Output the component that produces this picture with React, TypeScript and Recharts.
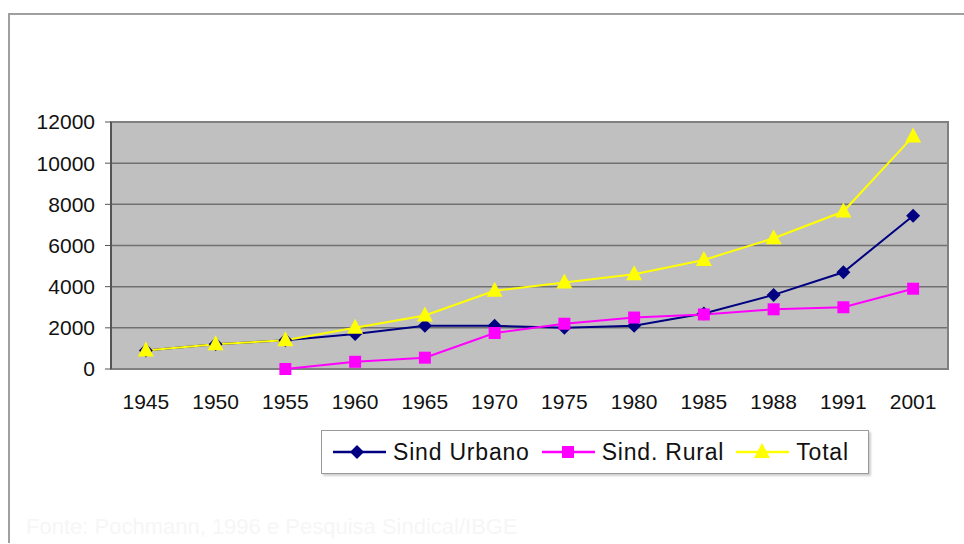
import React from "react";
import {
  LineChart,
  Line,
  XAxis,
  YAxis,
  CartesianGrid,
  ReferenceArea,
} from "recharts";

const years = ["1945", "1950", "1955", "1960", "1965", "1970", "1975", "1980", "1985", "1988", "1991", "2001"];
const urbano = [900, 1200, 1400, 1700, 2100, 2100, 2000, 2100, 2700, 3600, 4700, 7450];
const rural = [null, null, 0, 350, 550, 1750, 2200, 2500, 2650, 2900, 3000, 3900];
const total = [900, 1200, 1400, 2000, 2600, 3800, 4200, 4600, 5300, 6350, 7650, 11300];
const yTicks = [0, 2000, 4000, 6000, 8000, 10000, 12000];
const edgeTicks = [0, 1, 2, 3, 4, 5, 6, 7, 8, 9, 10, 11, 12];

const data = years.map((y, i) => ({
  year: y,
  urbano: urbano[i],
  rural: rural[i],
  total: total[i],
}));

const FONT = '"Liberation Sans", Arial, sans-serif';
const NAVY = "#000080";
const MAGENTA = "#ff00ff";
const YELLOW = "#ffff00";

const Diamond = ({ cx, cy }: any) =>
  cx == null || cy == null ? null : (
    <polygon points={`${cx},${cy - 7} ${cx + 7},${cy} ${cx},${cy + 7} ${cx - 7},${cy}`} fill={NAVY} />
  );

const Square = ({ cx, cy }: any) =>
  cx == null || cy == null ? null : <rect x={cx - 6} y={cy - 6} width={12} height={12} fill={MAGENTA} />;

const Triangle = ({ cx, cy }: any) =>
  cx == null || cy == null ? null : (
    <polygon points={`${cx},${cy - 9} ${cx + 8},${cy + 6} ${cx - 8},${cy + 6}`} fill={YELLOW} />
  );

const legendItems = [
  { label: "Sind Urbano", color: NAVY, shape: "diamond" },
  { label: "Sind. Rural", color: MAGENTA, shape: "square" },
  { label: "Total", color: YELLOW, shape: "triangle" },
];

const LegendBox = () => (
  <div
    style={{
      position: "absolute",
      left: 321,
      top: 430,
      width: 548,
      display: "flex",
      alignItems: "center",
      height: 44,
      border: "1px solid #9a9a9a",
      boxShadow: "2px 2px 2px #cfcfcf",
      background: "#fff",
      paddingLeft: 11,
      fontFamily: FONT,
      fontSize: 23,
      letterSpacing: 0.8,
      color: "#111",
      boxSizing: "border-box",
    }}
  >
    {legendItems.map((it) => (
      <div key={it.label} style={{ display: "flex", alignItems: "center", marginRight: 12 }}>
        <svg width={53} height={20} style={{ marginRight: 7 }}>
          <line x1={0} y1={10} x2={53} y2={10} stroke={it.color} strokeWidth={2.5} />
          {it.shape === "diamond" && <polygon points="24,3 31,10 24,17 17,10" fill={it.color} />}
          {it.shape === "square" && <rect x={20} y={4} width={12} height={12} fill={it.color} />}
          {it.shape === "triangle" && <polygon points="26,1 34,16 18,16" fill={it.color} />}
        </svg>
        <span>{it.label}</span>
      </div>
    ))}
  </div>
);

export default function App() {
  return (
    <div style={{ position: "fixed", left: 0, top: 0, width: 964, height: 544, background: "#fff", overflow: "hidden" }}>
      <div style={{ position: "absolute", left: 8, top: 13, right: 0, height: 0, borderTop: "2px solid #a0a0a0" }} />
      <div style={{ position: "absolute", left: 8, top: 13, width: 0, height: 530, borderLeft: "2px solid #a0a0a0" }} />
      <LineChart
        width={964}
        height={544}
        data={data}
        margin={{ top: 122, right: 16, bottom: 135, left: 0 }}
        style={{ position: "absolute", left: 0, top: 0 }}
      >
        <CartesianGrid vertical={false} fill="#c0c0c0" stroke="#707070" strokeWidth={1.5} />
        <ReferenceArea y1={0} y2={12000} fill="none" stroke="#808080" strokeWidth={2} />
        <XAxis
          xAxisId="edges"
          type="number"
          domain={[0, 12]}
          ticks={edgeTicks}
          tick={false}
          height={0}
          axisLine={{ stroke: "#555", strokeWidth: 2 }}
          tickLine={{ stroke: "#555" }}
          tickSize={6}
        />
        <XAxis
          dataKey="year"
          scale="band"
          height={40}
          axisLine={false}
          tickLine={false}
          tickMargin={19}
          interval={0}
          tick={{ fontFamily: FONT, fontSize: 21, fill: "#111" }}
        />
        <YAxis
          width={111}
          domain={[0, 12000]}
          ticks={yTicks}
          interval={0}
          axisLine={{ stroke: "#555", strokeWidth: 2 }}
          tickLine={{ stroke: "#555" }}
          tickSize={6}
          tickMargin={10}
          tick={{ fontFamily: FONT, fontSize: 21, fill: "#111" }}
        />
        <Line dataKey="urbano" name="Sind Urbano" stroke={NAVY} strokeWidth={2} dot={<Diamond />} isAnimationActive={false} />
        <Line dataKey="rural" name="Sind. Rural" stroke={MAGENTA} strokeWidth={2} dot={<Square />} isAnimationActive={false} />
        <Line dataKey="total" name="Total" stroke={YELLOW} strokeWidth={2} dot={<Triangle />} isAnimationActive={false} />
      </LineChart>
      <LegendBox />
      <div
        style={{
          position: "absolute",
          left: 26,
          top: 514,
          fontFamily: FONT,
          fontSize: 22,
          color: "#f6f6f6",
          whiteSpace: "nowrap",
        }}
      >
        Fonte: Pochmann, 1996 e Pesquisa Sindical/IBGE
      </div>
    </div>
  );
}
